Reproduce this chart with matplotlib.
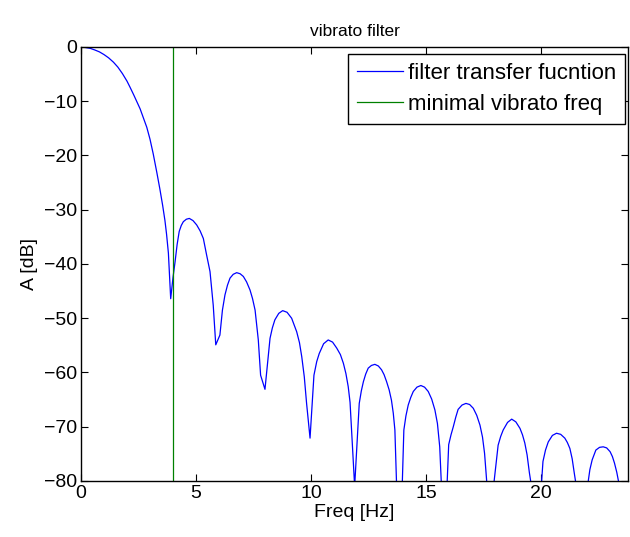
import matplotlib
matplotlib.use("Agg")
import matplotlib.pyplot as plt
import numpy as np

# frequency [Hz] and filter magnitude [dB]
freq = [0.0, 0.2, 0.4, 0.6, 0.8, 1.0, 1.2, 1.41, 1.6, 1.8, 2.0, 2.13, 2.3, 2.57, 2.7, 2.86,
        3.0, 3.14, 3.3, 3.43, 3.55, 3.65, 3.72, 3.8, 3.9,
        4.0, 4.09, 4.18, 4.27, 4.36, 4.45, 4.58, 4.71, 4.87, 5.03, 5.18, 5.32, 5.46, 5.61, 5.75, 5.86,
        6.04, 6.15, 6.26, 6.37, 6.48, 6.62, 6.77, 6.92, 7.06, 7.2, 7.35, 7.46, 7.57, 7.71, 7.81, 8.0,
        8.22, 8.32, 8.43, 8.6, 8.77, 8.96, 9.16, 9.38, 9.5, 9.6, 9.71, 9.81, 9.96,
        10.13, 10.25, 10.36, 10.55, 10.75, 10.94, 11.12, 11.28, 11.41, 11.52, 11.62, 11.7, 11.9,
        12.1, 12.19, 12.28, 12.38, 12.49, 12.63, 12.78, 12.93, 13.07, 13.18, 13.29, 13.4, 13.5,
        13.58, 13.65, 13.85,
        14.04, 14.13, 14.23, 14.34, 14.45, 14.61, 14.78, 14.94, 15.1, 15.25, 15.39, 15.5, 15.6, 15.8,
        15.99, 16.09, 16.19, 16.3, 16.4, 16.57, 16.74, 16.9, 17.06, 17.21, 17.35, 17.46, 17.55,
        17.75, 17.94,
        18.14, 18.25, 18.36, 18.55, 18.73, 18.91, 19.09, 19.2, 19.3, 19.4, 19.5, 19.7, 19.89,
        20.09, 20.2, 20.32, 20.5, 20.68, 20.86, 21.04, 21.15, 21.26, 21.36, 21.45, 21.65, 21.84,
        22.04, 22.13, 22.23, 22.39, 22.55, 22.71, 22.86, 23.01, 23.11, 23.2, 23.3, 23.4, 23.6, 23.79]
amp_db = [0.0, -0.1, -0.25, -0.55, -0.9, -1.4, -2.0, -2.8, -3.7, -4.9, -6.3, -7.4, -8.9, -11.4, -12.9, -14.8,
          -17.0, -19.7, -23.2, -26.2, -29.2, -32.0, -34.5, -38.0, -46.4,
          -42.5, -39.6, -36.4, -34.0, -32.9, -32.2, -31.75, -31.6, -32.0, -32.8, -33.9, -35.3, -38.3, -41.4, -47.6, -54.9,
          -53.1, -48.5, -45.7, -43.9, -42.6, -41.9, -41.6, -41.8, -42.3, -43.3, -44.8, -46.4, -48.5, -54.0, -60.5, -63.1,
          -53.7, -51.8, -50.3, -49.1, -48.6, -48.9, -50.0, -52.5, -54.5, -57.1, -60.8, -65.7, -72.1,
          -60.5, -58.0, -56.5, -54.7, -54.0, -54.4, -55.5, -56.7, -58.3, -60.2, -62.6, -65.5, -81.0,
          -65.7, -63.4, -61.7, -60.3, -59.2, -58.7, -58.5, -58.8, -59.5, -60.4, -61.7, -63.2, -65.1,
          -67.5, -70.6, -98.0,
          -70.6, -68.0, -66.0, -64.6, -63.5, -62.7, -62.4, -62.7, -63.5, -64.9, -66.9, -69.4, -73.7, -93.0,
          -73.3, -71.5, -70.0, -68.2, -66.8, -66.0, -65.7, -65.9, -66.6, -67.9, -69.7, -71.9, -74.9,
          -86.0, -81.0,
          -73.4, -71.8, -70.6, -69.2, -68.6, -69.1, -70.3, -71.5, -73.0, -75.2, -78.5, -84.0, -89.0,
          -76.4, -74.3, -72.8, -71.6, -71.2, -71.4, -72.1, -72.9, -74.0, -75.9, -78.5, -84.0, -90.0,
          -80.6, -77.9, -76.1, -74.3, -73.8, -73.7, -73.9, -74.6, -75.5, -76.7, -78.4, -80.6, -86.0, -92.0]
min_vibrato = 4.0

plt.rcParams['font.family'] = ['Liberation Sans', 'DejaVu Sans']

fig = plt.figure(figsize=(6.3, 5.37), dpi=100)
ax = fig.add_axes([0.1286, 0.1043, 0.8683, 0.8082])

ax.plot(freq, amp_db, color=(0, 0, 1), lw=0.9, label='filter transfer fucntion')
ax.axvline(min_vibrato, color=(0, 0.5, 0), lw=0.9, label='minimal vibrato freq')

ax.set_xlim(0, 23.79)
ax.set_ylim(-80, 0)
ax.set_xticks([0, 5, 10, 15, 20])
ax.set_yticks(np.arange(-80, 1, 10))
ax.tick_params(direction='in', top=True, right=True, labelsize=14, length=5, pad=3)
for s in ax.spines.values():
    s.set_linewidth(1.0)

ax.set_xlabel('Freq [Hz]', fontsize=14, labelpad=1)
ax.set_ylabel('A [dB]', fontsize=14, labelpad=4)
ax.set_title('vibrato filter', fontsize=12.5, pad=8)

leg = ax.legend(loc='upper right', fontsize=16, fancybox=False, framealpha=1,
                bbox_to_anchor=(625 / 630, 1 - 54 / 537), bbox_transform=fig.transFigure,
                borderaxespad=0, handlelength=2.1, handletextpad=0.2,
                borderpad=0.4, labelspacing=0.45)
leg.get_frame().set_edgecolor('black')
leg.get_frame().set_linewidth(1.0)

fig.savefig('out.png', dpi=100)
